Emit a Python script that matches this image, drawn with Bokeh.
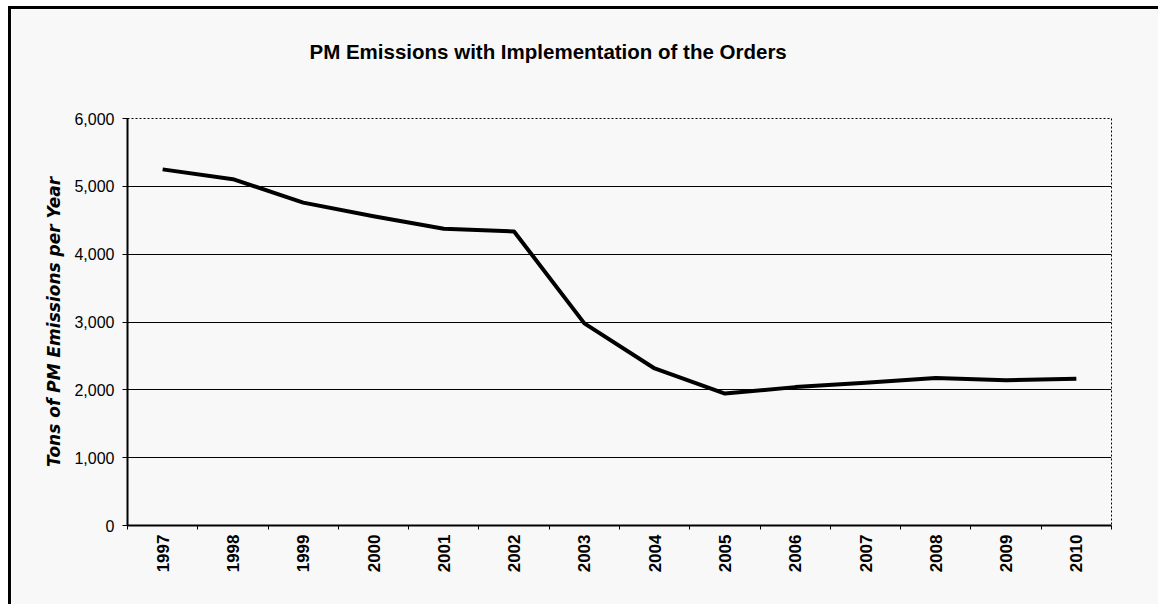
from bokeh.plotting import figure
from bokeh.models import (FixedTicker, NumeralTickFormatter, Range1d, Title)
from bokeh.embed import file_html
from bokeh.resources import INLINE

years = ["1997", "1998", "1999", "2000", "2001", "2002", "2003",
         "2004", "2005", "2006", "2007", "2008", "2009", "2010"]
emissions = [5250, 5105, 4760, 4560, 4375, 4335, 2980,
             2315, 1945, 2040, 2105, 2175, 2140, 2165]
y_ticks = [0, 1000, 2000, 3000, 4000, 5000, 6000]

title_text = "PM Emissions with Implementation of the Orders"
y_label = "Tons of PM Emissions per Year"

BG = "#f8f8f8"

xs = [i + 0.5 for i in range(len(years))]
bounds = list(range(len(years) + 1))

p = figure(width=1150, height=598, output_backend="svg", toolbar_location=None,
           x_range=Range1d(0, len(years)), y_range=Range1d(0, 6000),
           min_border_left=116, min_border_right=50, min_border_top=109,
           min_border_bottom=82)
p.styles = {"border-left": "3px solid black", "border-top": "3px solid black",
            "margin-left": "8px", "margin-top": "6px"}
p.background_fill_color = BG
p.border_fill_color = BG
p.outline_line_color = "black"
p.outline_line_dash = "2 2"
p.outline_line_width = 1

p.line(xs, emissions, line_color="black", line_width=4, line_join="round")

# x axis: labels at centres, tick marks at boundaries
p.xaxis.ticker = FixedTicker(ticks=xs, minor_ticks=bounds)
p.xaxis.major_label_overrides = {x: y for x, y in zip(xs, years)}
p.xaxis.major_label_orientation = 1.5708
p.xaxis.major_tick_line_color = None
p.xaxis.minor_tick_line_color = "black"
p.xaxis.minor_tick_out = 4
p.xaxis.minor_tick_in = 0
p.xaxis.axis_line_color = "black"
p.xaxis.axis_line_width = 2
p.xaxis.major_label_text_font = "Liberation Sans"
p.xaxis.major_label_text_font_style = "bold"
p.xaxis.major_label_text_font_size = "17px"
p.xaxis.major_label_text_color = "black"
p.xaxis.major_label_standoff = 3
p.xgrid.grid_line_color = None

p.yaxis.ticker = FixedTicker(ticks=y_ticks)
p.yaxis.formatter = NumeralTickFormatter(format="0,0")
p.yaxis.minor_tick_line_color = None
p.yaxis.major_tick_out = 5
p.yaxis.major_tick_in = 0
p.yaxis.major_tick_line_color = "black"
p.yaxis.axis_line_color = "black"
p.yaxis.axis_line_width = 2
p.yaxis.major_label_text_font = "Liberation Sans"
p.yaxis.major_label_text_font_size = "16px"
p.yaxis.major_label_text_color = "black"
p.yaxis.major_label_standoff = 8
p.yaxis.axis_label = y_label
p.yaxis.axis_label_text_font = "DejaVu Sans"
p.yaxis.axis_label_text_font_style = "bold italic"
p.yaxis.axis_label_text_font_size = "17px"
p.yaxis.axis_label_text_color = "black"
p.yaxis.axis_label_standoff = 7
p.ygrid.grid_line_color = "black"
p.ygrid.grid_line_width = 1

# spacer between frame and title
p.add_layout(Title(text=" ", text_font_size="10px", standoff=43), "above")
p.add_layout(Title(text=title_text, align="left", offset=182,
                   text_font="Liberation Sans", text_font_style="bold",
                   text_font_size="20.5px", text_color="black", standoff=0), "above")

open("out.html", "w").write(file_html(p, INLINE))
